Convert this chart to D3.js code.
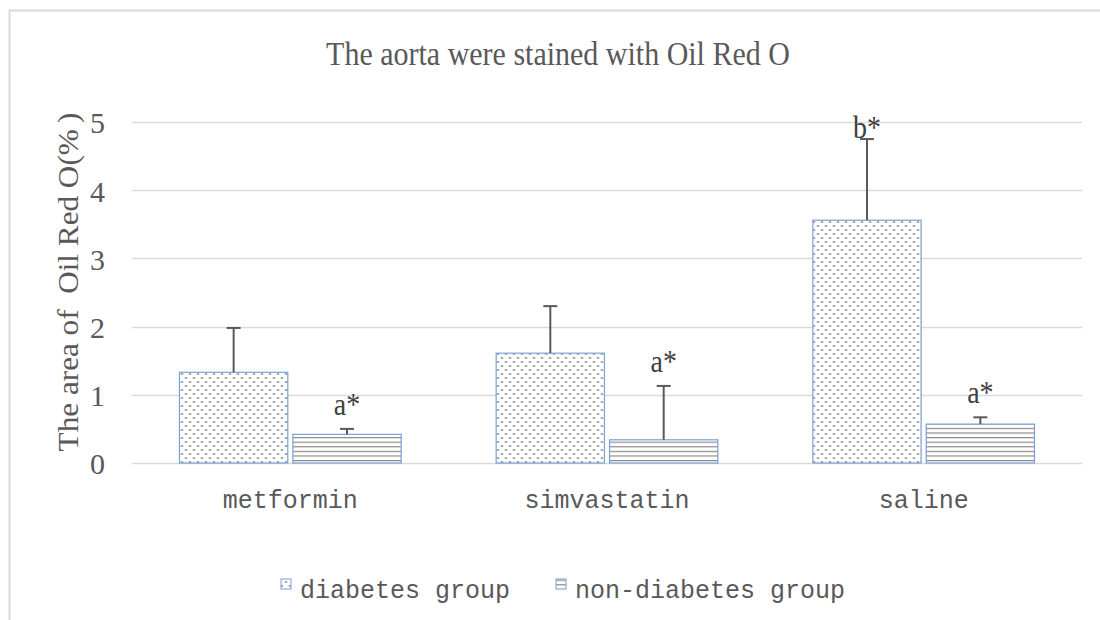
<!DOCTYPE html>
<html><head><meta charset="utf-8">
<script src="https://cdn.jsdelivr.net/npm/d3@7"></script>
<style>body{margin:0;background:#fff}svg{display:block}</style>
</head><body>
<svg id="c" width="1100" height="620"></svg>
<script>
const categories = ["metformin", "simvastatin", "saline"];
const seriesNames = ["diabetes group", "non-diabetes group"];
const diabetesValues = [1.33, 1.61, 3.56];
const diabetesErrors = [0.65, 0.69, 1.19];
const nonDiabetesValues = [0.42, 0.34, 0.57];
const nonDiabetesErrors = [0.08, 0.79, 0.10];
const diabetesLabels = ["", "", "b*"];
const nonDiabetesLabels = ["a*", "a*", "a*"];
const yTicks = [0, 1, 2, 3, 4, 5];

const svg = d3.select("#c");
const W = 1100, H = 620;
const m = {left: 132, right: 1082, top: 122, bottom: 463};
const textCol = "#595959";

// frame
svg.append("path").attr("d", `M9.5,${H} V10.5 H${W}`).attr("fill","none").attr("stroke","#d9d9d9").attr("stroke-width",2);

// patterns
const defs = svg.append("defs");
const p1 = defs.append("pattern").attr("id","dots").attr("patternUnits","userSpaceOnUse").attr("width",8).attr("height",8);
p1.append("rect").attr("width",8).attr("height",8).attr("fill","#fff");
[[1,1],[5,5]].forEach(([x,y])=>{
  p1.append("rect").attr("x",x).attr("y",y).attr("width",2).attr("height",1).attr("fill","#a0a0a0");
  p1.append("rect").attr("x",x-0.5).attr("y",y+1).attr("width",3).attr("height",1).attr("fill","#b4b4b4");
});
const p2 = defs.append("pattern").attr("id","hlines").attr("patternUnits","userSpaceOnUse").attr("width",8).attr("height",4.6);
p2.append("rect").attr("width",8).attr("height",4.6).attr("fill","#fff");
p2.append("rect").attr("y",0).attr("width",8).attr("height",1.2).attr("fill","#8a8a8a");

const y = d3.scaleLinear().domain([0,5]).range([m.bottom, m.top]);
const x0 = d3.scaleBand().domain(categories).range([m.left, m.right]).paddingInner(0.3).paddingOuter(0.15);
const x1 = d3.scaleBand().domain(seriesNames).range([0, x0.bandwidth()]).paddingInner(0.045);

// gridlines
svg.append("g").selectAll("line").data(yTicks).join("line")
  .attr("x1", m.left).attr("x2", m.right)
  .attr("y1", d=>Math.round(y(d))+0.5).attr("y2", d=>Math.round(y(d))+0.5)
  .attr("stroke","#d9d9d9").attr("stroke-width",1.5);

// y tick labels via axis
const ya = svg.append("g").attr("transform",`translate(${m.left-24},0)`)
  .call(d3.axisLeft(y).tickValues(yTicks).tickSize(0).tickFormat(d3.format("d")));
ya.select(".domain").remove();
ya.selectAll("text").attr("font-family","Liberation Serif").attr("font-size",30).attr("fill",textCol).attr("dy","0.36em");

// x labels via axis
const xa = svg.append("g").attr("transform",`translate(0,${m.bottom+42})`)
  .call(d3.axisBottom(x0).tickSize(0));
xa.select(".domain").remove();
xa.selectAll("text").attr("font-family","Liberation Mono").attr("font-size",25).attr("fill",textCol).attr("dy","0");

const series = [
  {name: seriesNames[0], vals: diabetesValues, errs: diabetesErrors, labels: diabetesLabels, fill: "url(#dots)"},
  {name: seriesNames[1], vals: nonDiabetesValues, errs: nonDiabetesErrors, labels: nonDiabetesLabels, fill: "url(#hlines)"}
];

series.forEach(s=>{
  const g = svg.append("g");
  const data = categories.map((c,i)=>({c, v:s.vals[i], e:s.errs[i], l:s.labels[i]}));
  g.selectAll("rect").data(data).join("rect")
    .attr("x", d=>x0(d.c)+x1(s.name)).attr("width", x1.bandwidth())
    .attr("y", d=>y(d.v)).attr("height", d=>y(0)-y(d.v))
    .attr("fill", s.fill).attr("stroke","#7a9fd6").attr("stroke-width",1.2);
  const cx = d=>x0(d.c)+x1(s.name)+x1.bandwidth()/2;
  g.selectAll("line.err").data(data).join("line").attr("class","err")
    .attr("x1",cx).attr("x2",cx).attr("y1",d=>y(d.v)).attr("y2",d=>y(d.v+d.e))
    .attr("stroke","#595959").attr("stroke-width",2);
  g.selectAll("line.cap").data(data).join("line").attr("class","cap")
    .attr("x1",d=>cx(d)-7).attr("x2",d=>cx(d)+7).attr("y1",d=>y(d.v+d.e)).attr("y2",d=>y(d.v+d.e))
    .attr("stroke","#595959").attr("stroke-width",2);
  g.selectAll("text").data(data.filter(d=>d.l)).join("text")
    .attr("transform", d=>`translate(${cx(d)},${y(d.v+d.e)-(d.l==="b*"?1:14)}) scale(1,1.12)`)
    .attr("text-anchor","middle").attr("font-family","Liberation Serif").attr("font-size",28)
    .attr("fill","#404040").text(d=>d.l);
});

// title
svg.append("text").attr("transform","translate(558,65) scale(1,1.15)").attr("text-anchor","middle")
  .attr("font-family","Liberation Serif").attr("font-size",30).attr("fill",textCol)
  .text("The aorta were stained with Oil Red O");

// y label
svg.append("text").attr("transform",`translate(78,282) scale(1,1.04) rotate(-90)`)
  .attr("text-anchor","middle").attr("font-family","Liberation Serif").attr("font-size",30).attr("fill",textCol)
  .attr("xml:space","preserve").text("The area of  Oil Red O(%\u2009)");

// legend
const legX = [281, 556];
const leg = svg.append("g");
series.forEach((s,i)=>{
  leg.append("rect").attr("x",legX[i]).attr("y",579).attr("width",10).attr("height",10)
    .attr("fill", s.fill).attr("stroke","#7a9fd6").attr("stroke-width",1);
  leg.append("text").attr("x",legX[i]+19).attr("y",598)
    .attr("font-family","Liberation Mono").attr("font-size",25).attr("fill",textCol).text(s.name);
});
</script>
</body></html>
